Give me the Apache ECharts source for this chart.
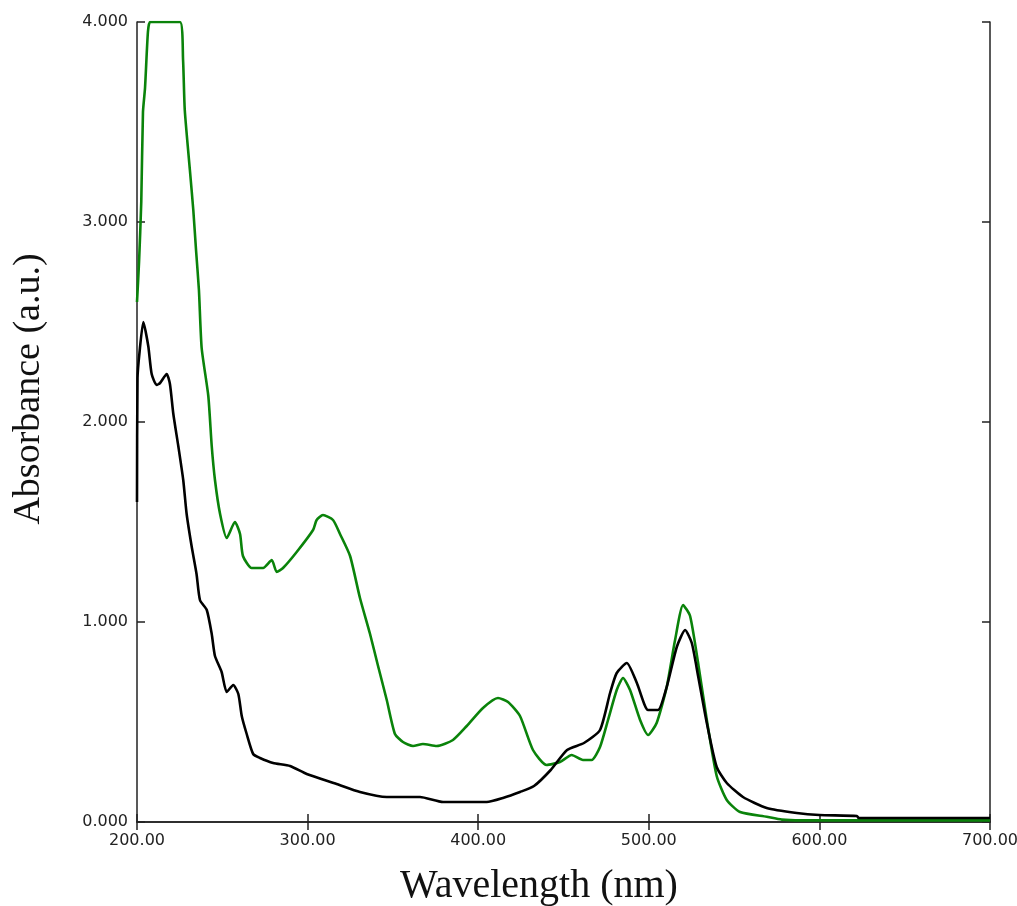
<!DOCTYPE html>
<html>
<head>
<meta charset="utf-8">
<script src="https://cdn.jsdelivr.net/npm/echarts@6/dist/echarts.min.js"></script>
<style>
html,body{margin:0;padding:0;background:#fff;overflow:hidden;}
#chart{width:1017px;height:906px;}
</style>
</head>
<body>
<div id="chart"></div>
<script>
// Green spectrum (wavelength nm, absorbance)
const greenWl = [200, 201.2, 202.5, 203.5, 204.7, 206.4, 207.6, 212.3, 225.2, 227, 228, 231, 233, 234.6, 236.3, 237.9, 241.8, 243.8, 245.7, 248.7, 252.6, 257.4, 260.4, 262.1, 267.2, 273.9, 279, 281.9, 285.6, 293.6, 303.2, 305.3, 309, 314.9, 319, 324.9, 330.7, 336.6, 341.3, 346.4, 351.2, 355.9, 361.8, 367.6, 375.7, 385.2, 393.3, 402.8, 411.6, 417.5, 424.5, 432.1, 440.1, 447.9, 454.8, 461.4, 466.5, 471.4, 476.1, 481.2, 484.9, 489, 494.9, 499.6, 504.6, 510.5, 515.4, 520.1, 524.2, 528.9, 534, 539.8, 545.7, 553.5, 569.1, 578, 588.9, 700];
const greenAbs = [2.60, 2.80, 3.10, 3.55, 3.67, 3.95, 4.0, 4.0, 4.0, 3.81, 3.56, 3.26, 3.06, 2.86, 2.66, 2.37, 2.13, 1.88, 1.71, 1.54, 1.42, 1.50, 1.44, 1.33, 1.27, 1.27, 1.31, 1.25, 1.27, 1.35, 1.46, 1.51, 1.535, 1.51, 1.44, 1.33, 1.12, 0.94, 0.78, 0.61, 0.44, 0.40, 0.38, 0.39, 0.38, 0.41, 0.48, 0.57, 0.62, 0.60, 0.53, 0.36, 0.285, 0.30, 0.335, 0.31, 0.31, 0.375, 0.51, 0.66, 0.72, 0.66, 0.51, 0.435, 0.495, 0.675, 0.91, 1.085, 1.03, 0.795, 0.51, 0.23, 0.11, 0.05, 0.026, 0.012, 0.008, 0.008];

// Black spectrum (wavelength nm, absorbance)
const blackWl = [200, 200.3, 201.5, 203.7, 206.6, 208.6, 211.5, 213.5, 217.4, 219.3, 221.3, 224.2, 227.1, 229.1, 232, 234.9, 236.9, 240.9, 243.8, 245.7, 249.6, 252.6, 256.4, 259.4, 261.4, 264.3, 268.1, 272.1, 279.8, 289.7, 299.5, 317, 330.7, 346.4, 365.9, 379.4, 405, 414.5, 424.5, 432.7, 442.5, 452.1, 462, 471.4, 477.3, 481.2, 487.1, 493, 499.6, 505.4, 510.5, 516.4, 521.3, 525.2, 528.9, 534, 539.8, 545.7, 555.2, 569.1, 586.7, 600, 622, 623, 700];
const blackAbs = [1.60, 2.22, 2.35, 2.50, 2.38, 2.24, 2.185, 2.195, 2.24, 2.19, 2.04, 1.88, 1.71, 1.54, 1.38, 1.24, 1.11, 1.06, 0.94, 0.83, 0.75, 0.65, 0.685, 0.64, 0.53, 0.44, 0.34, 0.32, 0.295, 0.28, 0.24, 0.19, 0.15, 0.125, 0.125, 0.10, 0.10, 0.12, 0.15, 0.18, 0.26, 0.36, 0.395, 0.46, 0.645, 0.745, 0.795, 0.695, 0.56, 0.56, 0.675, 0.875, 0.96, 0.895, 0.73, 0.495, 0.275, 0.195, 0.125, 0.07, 0.045, 0.035, 0.03, 0.02, 0.02];

const xMin = 200, xMax = 700, xStep = 100;
const yMin = 0, yMax = 4, yStep = 1;
const xTitle = 'Wavelength (nm)';
const yTitle = 'Absorbance (a.u.)';

const zip = (a, b) => a.map((v, i) => [v, b[i]]);
const axisColor = '#222';

const chart = echarts.init(document.getElementById('chart'), null, {renderer: 'canvas'});
chart.setOption({
  backgroundColor: '#fff',
  animation: false,
  grid: {left: 137, right: 27, top: 22, bottom: 84, containLabel: false, outerBoundsMode: 'none'},
  graphic: [{
    type: 'text', x: 539, y: 886,
    style: {text: xTitle, font: '40px "Liberation Serif"', fill: '#111', align: 'center', verticalAlign: 'middle'}
  }, {
    type: 'text', x: 29, y: 389, rotation: Math.PI / 2,
    style: {text: yTitle, font: '38px "Liberation Serif"', fill: '#111', align: 'center', verticalAlign: 'middle'}
  }],
  xAxis: [{
    type: 'value', min: xMin, max: xMax, interval: xStep, position: 'bottom',
    axisLine: {show: true, lineStyle: {color: axisColor, width: 1.5}},
    axisTick: {show: true, inside: true, length: 8, lineStyle: {color: axisColor, width: 1.5}},
    axisLabel: {formatter: v => v.toFixed(2), fontFamily: 'DejaVu Sans', fontSize: 16, color: '#222', margin: 11},
    splitLine: {show: false}
  }, {
    type: 'value', min: xMin, max: xMax, interval: xStep, position: 'top',
    axisLine: {show: true, lineStyle: {color: axisColor, width: 1.5}},
    axisTick: {show: true, inside: true, length: 8, lineStyle: {color: axisColor, width: 1.5}},
    axisLabel: {show: false}, splitLine: {show: false}
  }],
  yAxis: [{
    type: 'value', min: yMin, max: yMax, interval: yStep, position: 'left',
    axisLine: {show: true, lineStyle: {color: axisColor, width: 1.5}},
    axisTick: {show: true, inside: true, length: 8, lineStyle: {color: axisColor, width: 1.5}},
    axisLabel: {formatter: v => v.toFixed(3), fontFamily: 'DejaVu Sans', fontSize: 16, color: '#222', margin: 9},
    splitLine: {show: false}
  }, {
    type: 'value', min: yMin, max: yMax, interval: yStep, position: 'right',
    axisLine: {show: true, lineStyle: {color: axisColor, width: 1.5}},
    axisTick: {show: true, inside: true, length: 8, lineStyle: {color: axisColor, width: 1.5}},
    axisLabel: {show: false}, splitLine: {show: false}
  }],
  series: [{
    name: 'green', type: 'line', xAxisIndex: 0, yAxisIndex: 0,
    data: zip(greenWl, greenAbs), showSymbol: false, smooth: 0.2,
    lineStyle: {color: '#0a830a', width: 2.6}, itemStyle: {color: '#0a830a'}
  }, {
    name: 'black', type: 'line', xAxisIndex: 0, yAxisIndex: 0,
    data: zip(blackWl, blackAbs), showSymbol: false, smooth: 0.2,
    lineStyle: {color: '#000', width: 2.6}, itemStyle: {color: '#000'}
  }]
});
</script>
</body>
</html>
